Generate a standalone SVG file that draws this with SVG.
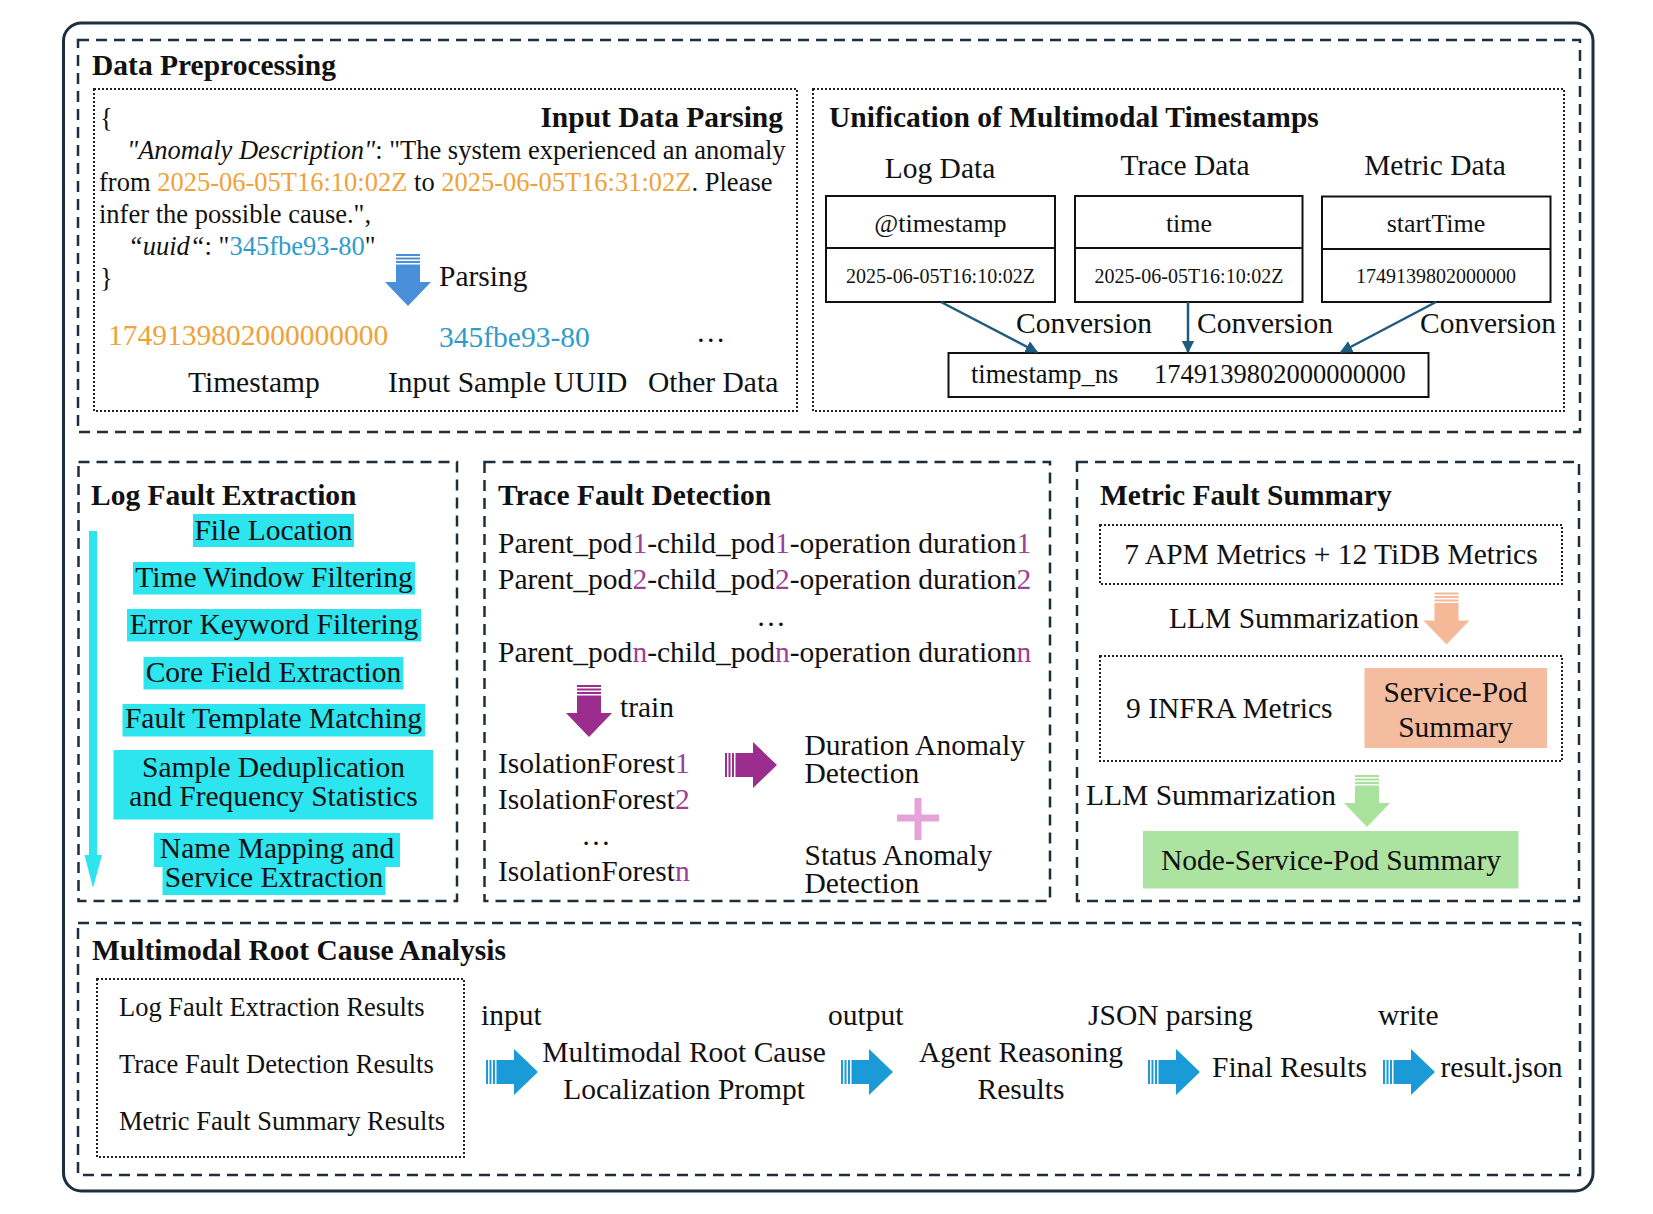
<svg xmlns="http://www.w3.org/2000/svg" width="1653" height="1214" viewBox="0 0 1653 1214">
<defs>
<style>
text{font-family:"Liberation Serif","Times New Roman",serif;fill:#111;font-size:29.5px}
.b{font-weight:bold}
.s{font-size:26.5px}
.t{font-size:26px}
.d{font-size:20px}
.m{text-anchor:middle}
.e{text-anchor:end}
.dash{fill:none;stroke:#1d2f3c;stroke-width:2.5;stroke-dasharray:11 7}
.dot{fill:none;stroke:#222;stroke-width:2;stroke-dasharray:2 2}
.box{fill:#fff;stroke:#111;stroke-width:2}
.cy{fill:#2CE5EE}
.or{fill:#F0A23A}
.bl{fill:#2E9CCB}
.pu{fill:#9E3F97}
.conn{stroke:#1f5b7e;stroke-width:2.5;fill:none;marker-end:url(#ah)}
</style>
<marker id="ah" viewBox="0 0 10 10" refX="9" refY="5" markerWidth="5" markerHeight="5" orient="auto" markerUnits="strokeWidth">
<path d="M0,0L10,5L0,10Z" fill="#1f5b7e"/>
</marker>
<g id="ba">
<rect x="0" y="-12" width="2" height="24"/>
<rect x="3.5" y="-12" width="2" height="24"/>
<rect x="7" y="-12" width="2" height="24"/>
<path d="M10.5,-12H28V-23L52,0L28,23V12H10.5Z"/>
</g>
</defs>
<rect width="1653" height="1214" fill="#fff"/>
<rect id="outer" x="63.5" y="23" width="1529.5" height="1168" rx="18" fill="none" stroke="#1b2f3d" stroke-width="3"/>

<g id="data-preprocessing">
<rect class="dash" x="78" y="40" width="1502" height="392"/>
<text class="b" x="92" y="75">Data Preprocessing</text>
</g>

<g id="input-data-parsing">
<rect class="dot" x="94" y="89" width="703" height="322"/>
<text class="b e" x="783" y="127">Input Data Parsing</text>
<text class="s" x="100" y="127">{</text>
<text class="s" x="127" y="159"><tspan font-style="italic">"Anomaly Description"</tspan>: "The system experienced an anomaly</text>
<text class="s" x="99" y="191">from <tspan class="or">2025-06-05T16:10:02Z</tspan> to <tspan class="or">2025-06-05T16:31:02Z</tspan>. Please</text>
<text class="s" x="99" y="223">infer the possible cause.",</text>
<text class="s" x="128" y="255"><tspan font-style="italic">“uuid“</tspan>: "<tspan class="bl">345fbe93-80</tspan>"</text>
<text class="s" x="100" y="287">}</text>
<text x="439" y="286">Parsing</text>
<text class="or" x="108" y="345">1749139802000000000</text>
<text class="bl" x="439" y="347">345fbe93-80</text>
<text x="696" y="342">…</text>
<text x="188" y="392">Timestamp</text>
<text x="388" y="392">Input Sample UUID</text>
<text x="648" y="392">Other Data</text>
</g>

<g id="unification">
<rect class="dot" x="813" y="89" width="751" height="322"/>
<text class="b" x="829" y="127">Unification of Multimodal Timestamps</text>
<text class="m" x="940" y="178">Log Data</text>
<text class="m" x="1185" y="175">Trace Data</text>
<text class="m" x="1435" y="175">Metric Data</text>
</g>
<g id="log-ts">
<rect class="box" x="826" y="196" width="229" height="106"/>
<line x1="826" y1="248" x2="1055" y2="248" stroke="#111" stroke-width="2"/>
<text class="t m" x="940.5" y="232">@timestamp</text>
<text class="d m" x="940.5" y="283">2025-06-05T16:10:02Z</text>
</g>
<g id="trace-ts">
<rect class="box" x="1075" y="196" width="227.5" height="106"/>
<line x1="1075" y1="248" x2="1302.5" y2="248" stroke="#111" stroke-width="2"/>
<text class="t m" x="1189" y="232">time</text>
<text class="d m" x="1189" y="283">2025-06-05T16:10:02Z</text>
</g>
<g id="metric-ts">
<rect class="box" x="1322" y="196.5" width="228.5" height="105.5"/>
<line x1="1322" y1="249" x2="1550.5" y2="249" stroke="#111" stroke-width="2"/>
<text class="t m" x="1436" y="232">startTime</text>
<text class="d m" x="1436" y="283">1749139802000000</text>
</g>
<g id="timestamp-ns">
<rect class="box" x="948.5" y="353" width="480" height="44"/>
<text class="s" x="971" y="383">timestamp_ns</text>
<text class="s" x="1154" y="383">1749139802000000000</text>
</g>
<g id="conversion-labels">
<text x="1016" y="333">Conversion</text>
<text x="1197" y="333">Conversion</text>
<text x="1420" y="333">Conversion</text>
</g>

<g id="log-fault-extraction">
<rect class="dash" x="78.5" y="462" width="378.5" height="439"/>
<text class="b" x="91" y="505">Log Fault Extraction</text>
<rect class="cy" x="89" y="531" width="8" height="326"/>
<path class="cy" d="M84.5,855H102L93,888Z"/>
<rect class="cy" x="193" y="514" width="161" height="33"/>
<rect class="cy" x="133" y="562" width="282" height="32.5"/>
<rect class="cy" x="127" y="609" width="294" height="32.5"/>
<rect class="cy" x="143.5" y="657" width="260" height="32.5"/>
<rect class="cy" x="122.5" y="704" width="302.5" height="32.5"/>
<rect class="cy" x="113.5" y="750" width="319.5" height="69.5"/>
<rect class="cy" x="154" y="833" width="246" height="34"/>
<rect class="cy" x="162.5" y="866" width="223" height="29"/>
<text class="m" x="273.5" y="540">File Location</text>
<text class="m" x="274" y="587">Time Window Filtering</text>
<text class="m" x="274" y="634">Error Keyword Filtering</text>
<text class="m" x="273.5" y="682">Core Field Extraction</text>
<text class="m" x="273.5" y="728">Fault Template Matching</text>
<text class="m" x="273.5" y="777">Sample Deduplication</text>
<text class="m" x="273.5" y="806">and Frequency Statistics</text>
<text class="m" x="277" y="858">Name Mapping and</text>
<text class="m" x="274" y="887">Service Extraction</text>
</g>

<g id="trace-fault-detection">
<rect class="dash" x="484.5" y="462" width="565.5" height="439"/>
<text class="b" x="498" y="505">Trace Fault Detection</text>
<text x="498" y="553">Parent_pod<tspan class="pu">1</tspan>-child_pod<tspan class="pu">1</tspan>-operation duration<tspan class="pu">1</tspan></text>
<text x="498" y="589">Parent_pod<tspan class="pu">2</tspan>-child_pod<tspan class="pu">2</tspan>-operation duration<tspan class="pu">2</tspan></text>
<text class="m" x="771" y="626">…</text>
<text x="498" y="662">Parent_pod<tspan class="pu">n</tspan>-child_pod<tspan class="pu">n</tspan>-operation duration<tspan class="pu">n</tspan></text>
<text x="620" y="717">train</text>
<text x="498" y="773">IsolationForest<tspan class="pu">1</tspan></text>
<text x="498" y="809">IsolationForest<tspan class="pu">2</tspan></text>
<text class="m" x="596" y="845">…</text>
<text x="498" y="881">IsolationForest<tspan class="pu">n</tspan></text>
<text x="804.5" y="755">Duration Anomaly</text>
<text x="804.5" y="783">Detection</text>
<path d="M918,798V840M897,818H939" stroke="#E6A3DA" stroke-width="7" fill="none"/>
<text x="804.5" y="865">Status Anomaly</text>
<text x="804.5" y="893">Detection</text>
</g>

<g id="metric-fault-summary">
<rect class="dash" x="1077" y="462" width="502" height="439"/>
<text class="b" x="1100" y="505">Metric Fault Summary</text>
<rect class="dot" x="1100" y="525" width="462" height="59"/>
<text class="m" x="1331" y="564">7 APM Metrics + 12 TiDB Metrics</text>
<text x="1169" y="628">LLM Summarization</text>
<rect class="dot" x="1100" y="656" width="462" height="105"/>
<text x="1126" y="718">9 INFRA Metrics</text>
<rect x="1364.5" y="668" width="182.5" height="80" fill="#F5BDA0"/>
<text class="m" x="1455.5" y="702">Service-Pod</text>
<text class="m" x="1455.5" y="737">Summary</text>
<text x="1086" y="805">LLM Summarization</text>
<rect x="1143" y="831" width="375.5" height="57.5" fill="#ADE3A0"/>
<text class="m" x="1331" y="870">Node-Service-Pod Summary</text>
</g>

<g id="root-cause-analysis">
<rect class="dash" x="78" y="923" width="1502" height="252"/>
<text class="b" x="92" y="960">Multimodal Root Cause Analysis</text>
<rect class="dot" x="97" y="979" width="367" height="178"/>
<text class="s" x="119" y="1016">Log Fault Extraction Results</text>
<text class="s" x="119" y="1073">Trace Fault Detection Results</text>
<text class="s" x="119" y="1130">Metric Fault Summary Results</text>
<text x="481" y="1025">input</text>
<text class="m" x="684" y="1062">Multimodal Root Cause</text>
<text class="m" x="684" y="1099">Localization Prompt</text>
<text x="828" y="1025">output</text>
<text class="m" x="1021" y="1062">Agent Reasoning</text>
<text class="m" x="1021" y="1099">Results</text>
<text x="1088" y="1025">JSON parsing</text>
<text x="1212" y="1077">Final Results</text>
<text x="1378" y="1025">write</text>
<text x="1440.5" y="1077">result.json</text>
</g>

<g id="connectors">
<path class="conn" d="M941,302L1037,352"/>
<path class="conn" d="M1188,302V352"/>
<path class="conn" d="M1436,302L1341,352"/>
<use href="#ba" transform="translate(408,254) rotate(90)" fill="#4A8FD8"/>
<use href="#ba" transform="translate(589,685) rotate(90)" fill="#9B2D8F"/>
<use href="#ba" transform="translate(725,765)" fill="#9B2D8F"/>
<use href="#ba" transform="translate(1446.5,592.5) rotate(90)" fill="#F5B998"/>
<use href="#ba" transform="translate(1367,775) rotate(90)" fill="#A9E29A"/>
<use href="#ba" transform="translate(486,1072)" fill="#1A9BD7"/>
<use href="#ba" transform="translate(841,1072)" fill="#1A9BD7"/>
<use href="#ba" transform="translate(1148,1072)" fill="#1A9BD7"/>
<use href="#ba" transform="translate(1383,1072)" fill="#1A9BD7"/>
</g>
</svg>
